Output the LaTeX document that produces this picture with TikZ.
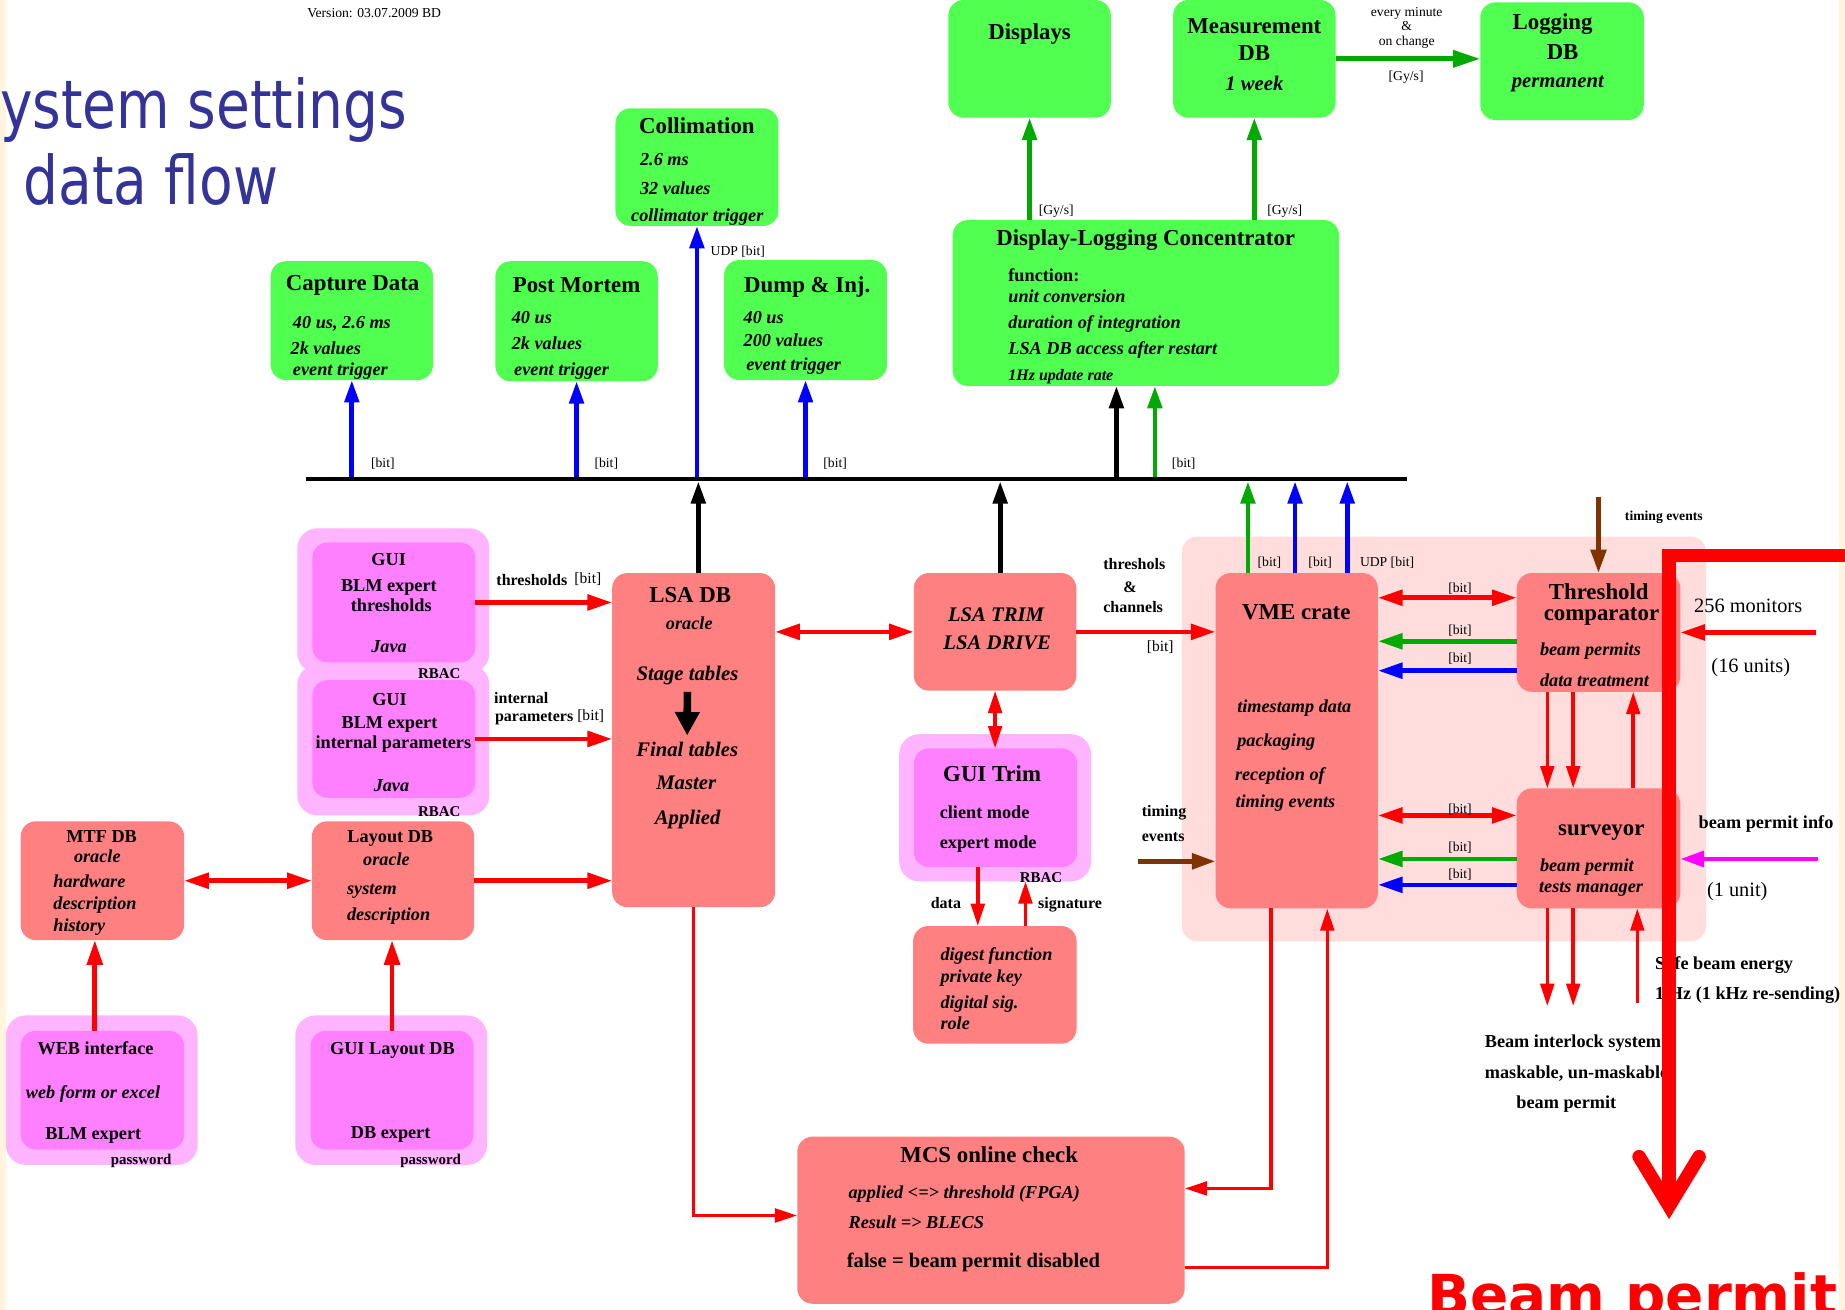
\documentclass[tikz,border=0pt]{standalone}
\usepackage{fontspec}
\setmainfont{Liberation Serif}
\newfontfamily\headsans[FakeStretch=0.82]{DejaVu Sans}
\newfontfamily\bannersans{DejaVu Sans}
\usetikzlibrary{arrows.meta}

\definecolor{boxgreen}{RGB}{80,255,80}
\definecolor{salmon}{RGB}{255,128,128}
\definecolor{pinkbg}{RGB}{255,221,221}
\definecolor{magin}{RGB}{255,128,255}
\definecolor{magout}{RGB}{255,180,255}
\definecolor{arrgreen}{RGB}{0,170,0}
\definecolor{arrblue}{RGB}{0,0,255}
\definecolor{arrred}{RGB}{255,0,0}
\definecolor{arrmag}{RGB}{255,0,255}
\definecolor{brownarr}{RGB}{128,51,0}
\definecolor{titleblue}{RGB}{51,51,153}
\definecolor{cream}{RGB}{255,245,222}

% font presets
\newcommand\FTitle{\fontsize{19.4}{23}\selectfont\bfseries}
\newcommand\FBigIt{\fontsize{17.6}{21}\selectfont\bfseries\itshape}
\newcommand\FBigBd{\fontsize{17.5}{21}\selectfont\bfseries}
\newcommand\FIt{\fontsize{15.5}{19}\selectfont\bfseries\itshape}
\newcommand\FBd{\fontsize{15.5}{19}\selectfont\bfseries}
\newcommand\FSmIt{\fontsize{13.6}{16}\selectfont\bfseries\itshape}
\newcommand\FLab{\fontsize{13.6}{16}\selectfont\bfseries}
\newcommand\FLabR{\fontsize{13.2}{16}\selectfont}
\newcommand\FTag{\fontsize{12.7}{15}\selectfont\bfseries}
\newcommand\FSm{\fontsize{11.6}{14}\selectfont}
\newcommand\FSmB{\fontsize{11.6}{14}\selectfont\bfseries}
\newcommand\FMon{\fontsize{17.3}{21}\selectfont}

\begin{document}
\begin{tikzpicture}[x=1pt,y=-1pt,
  every node/.style={inner sep=0pt,outer sep=0pt},
  gbox/.style={fill=boxgreen,rounded corners=13pt},
  rbox/.style={fill=salmon,rounded corners=13pt},
  moutbox/.style={fill=magout,rounded corners=17pt},
  minbox/.style={fill=magin,rounded corners=13pt},
  sz/.style 2 args={minimum width=#1,minimum height=#2},
  tc/.style={anchor=mid,yshift=-4pt},
  tl/.style={anchor=mid west,yshift=-4pt},
  ra/.style={arrred,line width=4pt,-{Triangle[length=21pt,width=13pt]}},
  rd/.style={arrred,line width=4pt,{Triangle[length=21pt,width=13pt]}-{Triangle[length=21pt,width=13pt]}},
  rt/.style={arrred,line width=3pt,-{Triangle[length=19pt,width=11.5pt]}},
  rtd/.style={arrred,line width=3pt,{Triangle[length=19pt,width=11.5pt]}-{Triangle[length=19pt,width=11.5pt]}},
  ba/.style={arrblue,line width=4pt,-{Triangle[length=19pt,width=12pt]}},
  ga/.style={arrgreen,line width=4pt,-{Triangle[length=19pt,width=12pt]}},
  gbig/.style={arrgreen,line width=4pt,-{Triangle[length=23pt,width=14pt]}},
  ka/.style={black,line width=4pt,-{Triangle[length=19pt,width=12pt]}},
  na/.style={brownarr,line width=4pt,-{Triangle[length=20pt,width=13pt]}},
  ma/.style={arrmag,line width=4pt,-{Triangle[length=20pt,width=13pt]}}]

\useasboundingbox (0,0) rectangle (1568,1113);
\clip (0,0) rectangle (1568,1113);
\fill[white] (0,0) rectangle (1568,1113);
\fill[cream] (0,0) rectangle (5,1113);
\fill[cream] (1563,0) rectangle (1568,1113);

% ---------- heading ----------
\node[anchor=base west,text=titleblue,font=\headsans\fontsize{57}{60}\selectfont] (head1) at (0,109) {ystem settings};
\node[anchor=base west,text=titleblue,font=\headsans\fontsize{57}{60}\selectfont] (head2) at (20,174) {data flow};
\node[tc,font=\FSm] (version) at (318,9) {Version: 03.07.2009 BD};

% ---------- crate area background ----------
\node[fill=pinkbg,rounded corners=13pt,sz={445.5pt}{344pt}] (crate) at (1227.2,628) {};

% ---------- green boxes ----------
\node[gbox,sz={138pt}{100pt}] (disp) at (875,50) {};
\node[gbox,sz={138pt}{100pt}] (meas) at (1066,50) {};
\node[gbox,sz={139pt}{100pt}] (logdb) at (1327.5,52) {};
\node[gbox,sz={138.6pt}{100pt}] (coll) at (592.3,142) {};
\node[gbox,sz={138pt}{101pt}] (cap) at (299,272.5) {};
\node[gbox,sz={138pt}{102pt}] (pm) at (490,273) {};
\node[gbox,sz={138.4pt}{102pt}] (dump) at (684.6,272) {};
\node[gbox,sz={328.4pt}{141pt}] (conc) at (973.8,257.5) {};

% ---------- magenta boxes ----------
\node[moutbox,sz={163.3pt}{123pt}] (gui1o) at (334.3,510.5) {};
\node[moutbox,sz={163.3pt}{128pt}] (gui2o) at (334.3,629) {};
\node[minbox,sz={138.5pt}{102pt}] (gui1i) at (334.7,512) {};
\node[minbox,sz={138.5pt}{100pt}] (gui2i) at (334.7,628) {};
\node[moutbox,sz={163pt}{125pt}] (guitrimo) at (845.7,686.5) {};
\node[minbox,sz={138.8pt}{101pt}] (guitrimi) at (846,686.5) {};
\node[moutbox,sz={163pt}{127pt}] (webo) at (86.5,926.5) {};
\node[minbox,sz={139pt}{101pt}] (webi) at (87,926.5) {};
\node[moutbox,sz={163pt}{127pt}] (guilayo) at (332.5,926.5) {};
\node[minbox,sz={138.5pt}{101pt}] (guilayi) at (333.2,926.5) {};

% ---------- salmon boxes ----------
\node[rbox,sz={138.5pt}{284pt}] (lsadb) at (589.5,629) {};
\node[rbox,sz={138.2pt}{100pt}] (trim) at (845.7,537) {};
\node[rbox,sz={138pt}{285pt}] (vme) at (1102,629.5) {};
\node[rbox,sz={139pt}{101pt}] (thr) at (1358.5,537.5) {};
\node[rbox,sz={139pt}{102pt}] (surv) at (1358.5,721) {};
\node[rbox,sz={139pt}{100pt}] (dig) at (845.5,837) {};
\node[rbox,sz={139pt}{101pt}] (mtf) at (87,748.5) {};
\node[rbox,sz={138pt}{101pt}] (layout) at (334,748.5) {};
\node[rbox,sz={329.3pt}{142pt}] (mcs) at (842.2,1037) {};

% ---------- data bus ----------
\node[fill=black,sz={936pt}{4pt}] (bus) at (728,407) {};

% bus to the data consumers
\draw[ba] (cap.south |- bus.north) -- (cap.south);
\draw[ba] (pm.south |- bus.north) -- (pm.south);
\draw[ba] (coll.south |- bus.north) -- (coll.south);
\draw[ba] (dump.south |- bus.north) -- (dump.south);
\coordinate (concK) at ([xshift=-25pt]conc.south);
\coordinate (concG) at ([xshift=7.7pt]conc.south);
\draw[ka] (concK |- bus.north) -- (concK);
\draw[ga] (concG |- bus.north) -- (concG);

% producers to the bus
\coordinate (lsaUp) at ([xshift=4pt]lsadb.north);
\coordinate (trimUp) at ([xshift=4.3pt]trim.north);
\coordinate (vmeG) at ([xshift=-41.4pt]vme.north);
\coordinate (vmeB1) at ([xshift=-1.4pt]vme.north);
\coordinate (vmeB2) at ([xshift=43pt]vme.north);
\draw[ka] (lsaUp) -- (lsaUp |- bus.south);
\draw[ka] (trimUp) -- (trimUp |- bus.south);
\draw[ga] (vmeG) -- (vmeG |- bus.south);
\draw[ba] (vmeB1) -- (vmeB1 |- bus.south);
\draw[ba] (vmeB2) -- (vmeB2 |- bus.south);

% concentrator outputs
\draw[ga] (disp.south |- conc.north) -- (disp.south);
\draw[ga] (meas.south |- conc.north) -- (meas.south);
\draw[gbig] (meas.east) -- (meas.east -| logdb.west);

% ---------- settings flow ----------
\draw[ra] (gui1i.east) -- (gui1i.east -| lsadb.west);
\draw[ra] (gui2i.east) -- (gui2i.east -| lsadb.west);
\draw[ra] (layout.east) -- (layout.east -| lsadb.west);
\draw[rd] (mtf.east) -- (layout.west);
\coordinate (webUp) at ([xshift=-6.4pt]webi.north);
\draw[ra] (webUp) -- (webUp |- mtf.south);
\draw[ra] (guilayi.north) -- (guilayi.north |- layout.south);
\draw[rd] (trim.west -| lsadb.east) -- (trim.west);
\draw[ra] (trim.east) -- (trim.east -| vme.west);
\draw[rtd] (trim.south) -- (trim.south |- guitrimi.north);
\coordinate (trimData) at ([xshift=-15pt]guitrimi.south);
\draw[rt] (trimData) -- (trimData |- dig.north);
\coordinate (digSig) at ([xshift=26pt]dig.north);
\draw[rt] (digSig) -- (digSig |- guitrimo.south);

% online check loop
\draw[rt] (lsadb.south) |- ([yshift=4pt]mcs.west);
\draw[rt] ([xshift=-22pt]vme.south) |- ([yshift=27pt]mcs.east);
\draw[rt] ([yshift=-40pt]mcs.east) -| ([xshift=26pt]vme.south);

% crate internal links
\coordinate (tv1) at ([yshift=29.5pt]thr.west);
\coordinate (tv2) at ([yshift=-7.5pt]thr.west);
\coordinate (tv3) at ([yshift=-32.5pt]thr.west);
\draw[rd] (tv1 -| vme.east) -- (tv1);
\draw[ga,-{Triangle[length=21pt,width=13pt]}] (tv2) -- (tv2 -| vme.east);
\draw[ba,-{Triangle[length=21pt,width=13pt]}] (tv3) -- (tv3 -| vme.east);
\coordinate (sv1) at ([yshift=28pt]surv.west);
\coordinate (sv2) at ([yshift=-9pt]surv.west);
\coordinate (sv3) at ([yshift=-31pt]surv.west);
\draw[rd] (sv1 -| vme.east) -- (sv1);
\draw[ga,-{Triangle[length=21pt,width=13pt]}] (sv2) -- (sv2 -| vme.east);
\draw[ba,-{Triangle[length=21pt,width=13pt]}] (sv3) -- (sv3 -| vme.east);

\coordinate (ts1) at ([xshift=-43.5pt]thr.south);
\coordinate (ts2) at ([xshift=-21.5pt]thr.south);
\coordinate (st1) at ([xshift=29.5pt]surv.north);
\draw[rt] (ts1) -- (ts1 |- surv.north);
\draw[rt] (ts2) -- (ts2 |- surv.north);
\draw[rt] (st1) -- (st1 |- thr.south);

\coordinate (sd1) at ([xshift=-43.5pt]surv.south);
\coordinate (sd2) at ([xshift=-21.5pt]surv.south);
\coordinate (sd3) at ([xshift=33pt]surv.south);
\coordinate (bis1) at (1315,855);
\coordinate (bis2) at (1337,855);
\coordinate (sbe) at (1391.5,852);
\draw[rt] (sd1) -- (bis1);
\draw[rt] (sd2) -- (bis2);
\draw[rt] (sbe) -- (sd3);

% external inputs
\coordinate (monIn) at (1543,537.5);
\draw[ra] (monIn) -- (thr.east);
\coordinate (bpIn) at (1545,730);
\draw[ma] (bpIn) -- (bpIn -| surv.east);
\coordinate (tmIn1) at (1358.5,422);
\draw[na] (tmIn1) -- (thr.north);
\coordinate (tmIn2) at (966.8,732);
\draw[na] (tmIn2) -- (tmIn2 -| vme.west);

% ---------- texts: green boxes ----------
\node[tc,font=\FTitle] (tDisp) at (875,27) {Displays};
\node[tc,font=\FTitle] (tMeas1) at (1066,22) {Measurement};
\node[tc,font=\FTitle] (tMeas2) at (1066,45) {DB};
\node[tc,font=\FBigIt] (tMeas3) at (1066,71) {1 week};
\node[tc,font=\FTitle] (tLog1) at (1319.5,19) {Logging};
\node[tc,font=\FTitle] (tLog2) at (1328,44) {DB};
\node[tc,font=\FBigIt] (tLog3) at (1324,68) {permanent};
\node[tc,font=\FSm] (tEv1) at (1195.5,8) {every minute};
\node[tc,font=\FSm] (tEv2) at (1195.5,20) {\&};
\node[tc,font=\FSm] (tEv3) at (1195.5,32) {on change};
\node[tc,font=\FSm] (tEv4) at (1195,62) {[Gy/s]};
\node[tl,font=\FSm] (tGy1) at (882.8,176) {[Gy/s]};
\node[tl,font=\FSm] (tGy2) at (1077,176) {[Gy/s]};

\node[tc,font=\FTitle] (tColl) at (592.3,107) {Collimation};
\node[tl,font=\FIt] (tColl1) at (544,134) {2.6 ms};
\node[tl,font=\FIt] (tColl2) at (544,159) {32 values};
\node[tc,font=\FIt] (tColl3) at (592.6,182) {collimator trigger};
\node[tl,font=\FSm] (tUdp) at (604,211) {UDP [bit]};

\node[tc,font=\FTitle] (tCap) at (299.7,241) {Capture Data};
\node[tl,font=\FIt] (tCap1) at (249,273) {40 us, 2.6 ms};
\node[tl,font=\FIt] (tCap2) at (247,295) {2k values};
\node[tl,font=\FIt] (tCap3) at (249,313) {event trigger};

\node[tc,font=\FTitle] (tPm) at (490,242) {Post Mortem};
\node[tl,font=\FIt] (tPm1) at (435,269) {40 us};
\node[tl,font=\FIt] (tPm2) at (435,291) {2k values};
\node[tl,font=\FIt] (tPm3) at (437,313) {event trigger};

\node[tc,font=\FTitle] (tDump) at (686,242) {Dump \& Inj.};
\node[tl,font=\FIt] (tDump1) at (632,269) {40 us};
\node[tl,font=\FIt] (tDump2) at (632,288) {200 values};
\node[tl,font=\FIt] (tDump3) at (634.3,309) {event trigger};

\node[tl,font=\FTitle] (tConc) at (846.8,202) {Display-Logging Concentrator};
\node[tl,font=\FBd] (tConc1) at (857,233) {function:};
\node[tl,font=\FIt] (tConc2) at (857,251) {unit conversion};
\node[tl,font=\FIt] (tConc3) at (857,273) {duration of integration};
\node[tl,font=\FIt] (tConc4) at (857,295) {LSA DB access after restart};
\node[tl,font=\FSmIt] (tConc5) at (857,317) {1Hz update rate};

\node[tl,font=\FSm] (tBit1) at (315.4,391) {[bit]};
\node[tl,font=\FSm] (tBit2) at (505.3,391) {[bit]};
\node[tl,font=\FSm] (tBit3) at (699.8,391) {[bit]};
\node[tl,font=\FSm] (tBit4) at (996,391) {[bit]};
\node[tl,font=\FSm] (tBit5) at (1068.8,475) {[bit]};
\node[tl,font=\FSm] (tBit6) at (1112,475) {[bit]};
\node[tl,font=\FSm] (tBit7) at (1155.8,475) {UDP [bit]};

% ---------- texts: settings side ----------
\node[tc,font=\FBd] (tG1a) at (330.3,474) {GUI};
\node[tc,font=\FBd] (tG1b) at (330.5,496) {BLM expert};
\node[tc,font=\FBd] (tG1c) at (332.5,513) {thresholds};
\node[tc,font=\FIt] (tG1d) at (330.6,548) {Java};
\node[tc,font=\FTag] (tG1e) at (373.3,570) {RBAC};
\node[tc,font=\FBd] (tG2a) at (331,593) {GUI};
\node[tc,font=\FBd] (tG2b) at (331,613) {BLM expert};
\node[tc,font=\FBd] (tG2c) at (334.3,630) {internal parameters};
\node[tc,font=\FIt] (tG2d) at (332.7,666) {Java};
\node[tc,font=\FTag] (tG2e) at (373.3,688) {RBAC};
\node[tc,font=\FLab] (tThr) at (452,491) {thresholds};
\node[tc,font=\FLabR] (tThrB) at (499.6,490) {[bit]};
\node[tl,font=\FLab] (tInt1) at (420,592) {internal};
\node[tl,font=\FLab] (tInt2) at (420.7,607) {parameters};
\node[tc,font=\FLabR] (tIntB) at (502,606) {[bit]};

\node[tc,font=\FBd] (tMtf1) at (86.4,710) {MTF DB};
\node[tc,font=\FIt] (tMtf2) at (82.7,727) {oracle};
\node[tl,font=\FIt] (tMtf3) at (45.4,748) {hardware};
\node[tl,font=\FIt] (tMtf4) at (45.4,767) {description};
\node[tl,font=\FIt] (tMtf5) at (45.4,785) {history};
\node[tc,font=\FBd] (tLay1) at (331.7,710) {Layout DB};
\node[tc,font=\FIt] (tLay2) at (328.5,729) {oracle};
\node[tl,font=\FIt] (tLay3) at (295,754) {system};
\node[tl,font=\FIt] (tLay4) at (295,776) {description};

\node[tc,font=\FBd] (tWeb1) at (81.2,890) {WEB interface};
\node[tc,font=\FIt] (tWeb2) at (79,927) {web form or excel};
\node[tc,font=\FBd] (tWeb3) at (79.3,962) {BLM expert};
\node[tc,font=\FTag] (tWeb4) at (120,983) {password};
\node[tc,font=\FBd] (tGl1) at (333.5,890) {GUI Layout DB};
\node[tc,font=\FBd] (tGl2) at (332,961) {DB expert};
\node[tc,font=\FTag] (tGl3) at (366,983) {password};

\node[tc,font=\FTitle] (tLsa1) at (586.6,506) {LSA DB};
\node[tc,font=\FIt] (tLsa2) at (585.8,529) {oracle};
\node[tc,font=\FBigIt] (tLsa3) at (584.2,572) {Stage tables};
\node[tc,font=\FBigIt] (tLsa4) at (584,637) {Final tables};
\node[tc,font=\FBigIt] (tLsa5) at (583.2,665) {Master};
\node[tc,font=\FBigIt] (tLsa6) at (584.4,694) {Applied};
\draw[black,line width=6.5pt,-{Triangle[length=20pt,width=20pt]}] ([yshift=-6pt]tLsa3.south) -- ([yshift=6pt]tLsa4.north);

\node[tc,font=\FBigIt] (tTrim1) at (846.5,522) {LSA TRIM};
\node[tc,font=\FBigIt] (tTrim2) at (847.5,546) {LSA DRIVE};
\node[tc,font=\FLab] (tTc1) at (964,478) {threshols};
\node[tc,font=\FLab] (tTc2) at (960.3,497) {\&};
\node[tc,font=\FLab] (tTc3) at (963,514) {channels};
\node[tc,font=\FLabR] (tTc4) at (986,547) {[bit]};

\node[tc,font=\FTitle] (tGt1) at (843.2,658) {GUI Trim};
\node[tl,font=\FBd] (tGt2) at (798.7,689) {client mode};
\node[tl,font=\FBd] (tGt3) at (798.7,715) {expert mode};
\node[tc,font=\FTag] (tGt4) at (884.7,744) {RBAC};
\node[tc,font=\FLab] (tData) at (803.9,766) {data};
\node[tc,font=\FLab] (tSig) at (909.4,766) {signature};
\node[tl,font=\FIt] (tDig1) at (799.3,810) {digest function};
\node[tl,font=\FIt] (tDig2) at (799.3,829) {private key};
\node[tl,font=\FIt] (tDig3) at (799.3,851) {digital sig.};
\node[tl,font=\FIt] (tDig4) at (799.3,869) {role};
\node[tl,font=\FLab] (tTim1) at (970.4,688) {timing};
\node[tl,font=\FLab] (tTim2) at (970.4,709) {events};

% ---------- texts: crate ----------
\node[tc,font=\FTitle] (tVme) at (1101.6,520) {VME crate};
\node[tl,font=\FIt] (tVme1) at (1051.5,599) {timestamp data};
\node[tl,font=\FIt] (tVme2) at (1051.5,628) {packaging};
\node[tl,font=\FIt] (tVme3) at (1049.6,657) {reception of};
\node[tl,font=\FIt] (tVme4) at (1050,680) {timing events};
\node[tc,font=\FTitle] (tTh1) at (1358.7,503) {Threshold};
\node[tc,font=\FTitle] (tTh2) at (1361,521) {comparator};
\node[tl,font=\FIt] (tTh3) at (1308.8,551) {beam permits};
\node[tl,font=\FIt] (tTh4) at (1308.8,577) {data treatment};
\node[tc,font=\FTitle] (tSv1) at (1360.9,704) {surveyor};
\node[tl,font=\FIt] (tSv2) at (1308.8,734) {beam permit};
\node[tl,font=\FIt] (tSv3) at (1308,752) {tests manager};
\node[tc,font=\FSm] (tCb1) at (1240.8,497) {[bit]};
\node[tc,font=\FSm] (tCb2) at (1240.8,533) {[bit]};
\node[tc,font=\FSm] (tCb3) at (1240.8,557) {[bit]};
\node[tc,font=\FSm] (tCb4) at (1240.8,685) {[bit]};
\node[tc,font=\FSm] (tCb5) at (1240.8,717) {[bit]};
\node[tc,font=\FSm] (tCb6) at (1240.8,740) {[bit]};
\node[tl,font=\FSmB] (tTe) at (1381,436) {timing events};
\node[tl,font=\FMon] (tMon1) at (1439.8,514) {256 monitors};
\node[tl,font=\FMon] (tMon2) at (1454.5,565) {(16 units)};
\node[tl,font=\FBd] (tBpi1) at (1443.6,698) {beam permit info};
\node[tl,font=\FMon] (tBpi2) at (1450.7,756) {(1 unit)};
\node[tl,font=\FBd] (tSbe1) at (1406.7,818) {Safe beam energy};
\node[tl,font=\FBd] (tSbe2) at (1406.7,843) {1 Hz (1 kHz re-sending)};
\node[tl,font=\FBd] (tBis1) at (1261.9,884) {Beam interlock system};
\node[tl,font=\FBd] (tBis2) at (1261.9,910) {maskable, un-maskable};
\node[tl,font=\FBd] (tBis3) at (1288.8,936) {beam permit};

% ---------- texts: online check ----------
\node[tc,font=\FTitle] (tMcs1) at (840.7,982) {MCS online check};
\node[tl,font=\FIt] (tMcs2) at (721.2,1012) {applied <=> threshold (FPGA)};
\node[tl,font=\FIt] (tMcs3) at (721.2,1038) {Result => BLECS};
\node[tl,font=\FBigBd] (tMcs4) at (719.7,1071) {false = beam permit disabled};

% ---------- beam permit output ----------
\coordinate (bpA) at (1568,472);
\coordinate (bpB) at (1418.5,472);
\coordinate (bpC) at (1418.5,1025);
\coordinate (bpL) at (1393,983);
\coordinate (bpR) at (1444,983);
\draw[arrred,line width=11.5pt,line join=miter] (bpA) -- (bpB) -- (bpC);
\draw[arrred,line width=11.5pt,line cap=round,line join=miter] (bpL) -- (bpC) -- (bpR);
\node[anchor=base west,text=arrred,font=\bannersans\bfseries\fontsize{48}{52}\selectfont] (bpText) at (1213,1118) {Beam permit};
\end{tikzpicture}
\end{document}
